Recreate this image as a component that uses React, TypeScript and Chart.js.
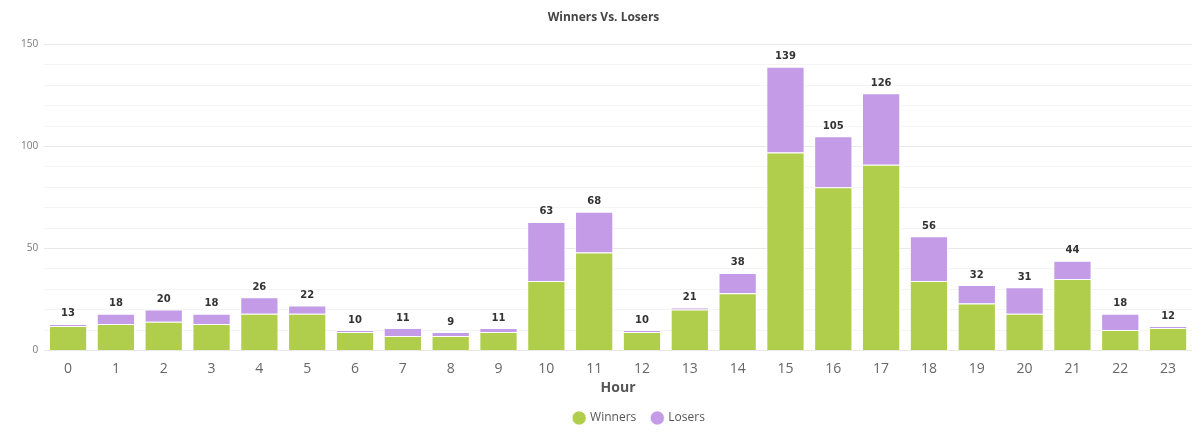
import React, { useEffect, useRef } from "react";
import { Chart, registerables } from "chart.js";

Chart.register(...registerables);

const hours = ["0","1","2","3","4","5","6","7","8","9","10","11","12","13","14","15","16","17","18","19","20","21","22","23"];
const winners = [12, 13, 14, 13, 18, 18, 9, 7, 7, 9, 34, 48, 9, 20, 28, 97, 80, 91, 34, 23, 18, 35, 10, 11];
const losers = [1, 5, 6, 5, 8, 4, 1, 4, 2, 2, 29, 20, 1, 1, 10, 42, 25, 35, 22, 9, 13, 9, 8, 1];
const yLabels = [0, 50, 100, 150];

const totalsPlugin = {
  id: "totals",
  afterLayout(chart: any) {
    const lg = chart.legend;
    if (lg) {
      lg.left += 36;
      lg.right += 36;
    }
  },
  afterDatasetsDraw(chart: any) {
    const ctx = chart.ctx;
    const meta = chart.getDatasetMeta(chart.data.datasets.length - 1);
    ctx.save();
    ctx.font = "bold 10px 'DejaVu Sans', sans-serif";
    ctx.fillStyle = "#333333";
    ctx.textAlign = "center";
    ctx.textBaseline = "bottom";
    meta.data.forEach((el: any, i: number) => {
      const total = winners[i] + losers[i];
      ctx.fillText(String(total), el.x, el.y - 5);
    });
    ctx.restore();
  },
};

export default function App() {
  const ref = useRef<HTMLCanvasElement>(null);
  useEffect(() => {
    if (!ref.current) return;
    const chart = new Chart(ref.current, {
      type: "bar",
      data: {
        labels: hours,
        datasets: [
          {
            label: "Winners",
            data: winners,
            backgroundColor: "#b0ce4c",
            borderColor: "rgba(255,255,255,0.7)",
            borderWidth: 1,
            barPercentage: 0.8,
            categoryPercentage: 1,
          },
          {
            label: "Losers",
            data: losers,
            backgroundColor: "#c39be6",
            borderColor: "rgba(255,255,255,0.7)",
            borderWidth: 1,
            barPercentage: 0.8,
            categoryPercentage: 1,
          },
        ],
      },
      options: {
        animation: false,
        responsive: true,
        maintainAspectRatio: false,
        layout: { padding: { left: 7, right: 0, top: 0, bottom: 2 } },
        plugins: {
          title: {
            display: true,
            text: "Winners Vs. Losers",
            color: "#444444",
            font: { family: "'Open Sans', sans-serif", size: 12, weight: "bold" },
            padding: { top: 2, bottom: 20 },
          },
          legend: {
            position: "bottom",
            labels: {
              usePointStyle: true,
              pointStyle: "circle",
              boxWidth: 10,
              boxHeight: 10,
              padding: 16,
              color: "#555555",
              font: { family: "'Open Sans', sans-serif", size: 12 },
            },
          },
          tooltip: { enabled: false },
        },
        scales: {
          x: {
            stacked: true,
            grid: { display: false },
            border: { display: false },
            ticks: {
              color: "#666666",
              font: { family: "'Open Sans', sans-serif", size: 14 },
              padding: 2,
            },
            title: {
              display: true,
              text: "Hour",
              color: "#555555",
              font: { family: "'Open Sans', sans-serif", size: 14, weight: "bold" },
              padding: { top: 0, bottom: 0 },
            },
          },
          y: {
            stacked: true,
            min: 0,
            max: 150,
            border: { display: false },
            grid: {
              color: (c: any) => (c.tick && c.tick.value % 50 === 0 ? "#e8e8e8" : "#f4f4f4"),
              drawTicks: false,
            },
            ticks: {
              stepSize: 10,
              autoSkip: false,
              padding: 6,
              color: "#777777",
              font: { family: "'Open Sans', sans-serif", size: 10 },
              callback: (v: any) => (yLabels.includes(Number(v)) ? String(v) : ""),
            },
          },
        },
      },
      plugins: [totalsPlugin],
    });
    return () => chart.destroy();
  }, []);
  return (
    <div style={{ width: "1184px", height: "428px", position: "relative" }}>
      <canvas ref={ref} />
    </div>
  );
}
